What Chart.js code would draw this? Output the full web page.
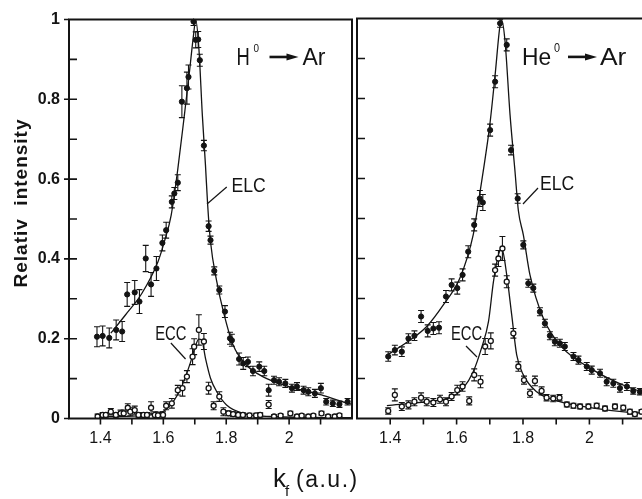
<!DOCTYPE html>
<html>
<head>
<meta charset="utf-8">
<script src="https://cdn.jsdelivr.net/npm/chart.js@4.4.1/dist/chart.umd.min.js"></script>
<style>
  html, body { margin: 0; padding: 0; background: #fff; overflow: hidden; }
  #wrap { position: relative; width: 642px; height: 499px; overflow: hidden; background: #fff; }
  canvas { position: absolute; top: 0; }
  #cL { left: 0; }
  #cR { left: 340px; }
</style>
</head>
<body>
<div id="wrap">
  <canvas id="cR" width="330" height="499"></canvas>
  <canvas id="cL" width="362" height="499"></canvas>
</div>
<script>
// ---------------- data ----------------
const xTickLabels = ['1.4', '1.6', '1.8', '2'];
const yTickLabels = ['0', '0.2', '0.4', '0.6', '0.8', '1'];

// H0 -> Ar : ELC (filled circles)
const hElcK = [1.389,1.407,1.428,1.45,1.469,1.485,1.509,1.524,1.544,1.561,1.578,1.597,1.609,1.627,1.635,1.646,1.659,1.675,1.68,1.696,1.703,1.711,1.716,1.729,1.744,1.75,1.762,1.778,1.796,1.812,1.818,1.841,1.854,1.869,1.885,1.905,1.921,1.935,1.952,1.968,1.988,2.009,2.025,2.046,2.061,2.082,2.101,2.118,2.139,2.16,2.186];
const hElcV = [0.205,0.207,0.202,0.222,0.218,0.311,0.316,0.293,0.401,0.336,0.376,0.44,0.472,0.543,0.564,0.591,0.794,0.828,0.856,0.995,0.949,0.95,0.898,0.684,0.482,0.447,0.37,0.322,0.268,0.201,0.196,0.149,0.138,0.142,0.119,0.13,0.119,0.071,0.096,0.092,0.088,0.076,0.08,0.071,0.067,0.063,0.076,0.042,0.038,0.036,0.042];
const hElcErr = [0.025,0.025,0.025,0.025,0.025,0.03,0.03,0.03,0.033,0.03,0.03,0.02,0.02,0.015,0.015,0.02,0.04,0.04,0.03,0.01,0.02,0.02,0.015,0.013,0.013,0.01,0.01,0.01,0.015,0.015,0.015,0.015,0.015,0.012,0.012,0.012,0.012,0.015,0.01,0.01,0.01,0.01,0.01,0.01,0.01,0.01,0.012,0.008,0.008,0.008,0.008];

// H0 -> Ar : ECC (open circles)
const hEccK = [1.391,1.407,1.417,1.433,1.449,1.464,1.474,1.487,1.495,1.509,1.521,1.537,1.548,1.561,1.573,1.583,1.599,1.609,1.627,1.646,1.661,1.675,1.693,1.698,1.713,1.729,1.744,1.76,1.778,1.791,1.807,1.822,1.838,1.853,1.874,1.895,1.908,1.935,1.952,1.973,2.004,2.025,2.04,2.061,2.077,2.103,2.124,2.145,2.16];
const hEccV = [0.005,0.009,0.009,0.017,0.009,0.013,0.013,0.027,0.017,0.021,0.009,0.009,0.009,0.027,0.009,0.008,0.009,0.032,0.038,0.071,0.076,0.105,0.155,0.18,0.222,0.193,0.076,0.032,0.055,0.017,0.013,0.011,0.009,0.009,0.008,0.008,0.009,0.035,0.005,0.007,0.013,0.005,0.007,0.005,0.007,0.013,0.005,0.005,0.008];
const hEccErr = [0.006,0.006,0.006,0.008,0.006,0.008,0.008,0.01,0.01,0.01,0.006,0.006,0.006,0.015,0.008,0.008,0.008,0.01,0.012,0.012,0.02,0.015,0.02,0.02,0.038,0.02,0.015,0.01,0.012,0.01,0.006,0.006,0.005,0.005,0.005,0.005,0.005,0.01,0.004,0.004,0.005,0.004,0.004,0.004,0.004,0.005,0.004,0.004,0.004];

// H0 -> Ar : fitted curves
const hElcFitK = [1.433,1.48,1.532,1.583,1.604,1.625,1.646,1.667,1.682,1.696,1.703,1.713,1.724,1.734,1.741,1.75,1.77,1.791,1.822,1.864,1.916,1.999,2.103,2.186,2.2];
const hElcFitV = [0.214,0.26,0.314,0.393,0.445,0.51,0.625,0.761,0.861,0.961,0.999,0.928,0.761,0.635,0.535,0.443,0.343,0.268,0.184,0.134,0.105,0.08,0.059,0.038,0.036];
const hEccFitK = [1.39,1.5,1.58,1.614,1.656,1.687,1.703,1.713,1.722,1.734,1.75,1.77,1.801,1.853,1.94,2.2];
const hEccFitV = [0.004,0.006,0.012,0.026,0.076,0.142,0.184,0.199,0.197,0.151,0.101,0.067,0.034,0.013,0.005,0.002];

// He0 -> Ar : ELC (filled circles)
const heElcK = [1.394,1.414,1.435,1.455,1.473,1.493,1.513,1.53,1.547,1.568,1.585,1.602,1.618,1.635,1.653,1.67,1.679,1.701,1.716,1.731,1.751,1.764,1.784,1.801,1.816,1.831,1.851,1.866,1.881,1.896,1.911,1.926,1.952,1.967,1.992,2.007,2.032,2.052,2.072,2.092,2.113,2.132,2.152];
const heElcV = [0.155,0.171,0.167,0.2,0.207,0.255,0.219,0.225,0.227,0.305,0.334,0.326,0.359,0.417,0.484,0.55,0.54,0.721,0.842,0.988,0.934,0.671,0.55,0.434,0.338,0.326,0.267,0.238,0.207,0.192,0.188,0.18,0.155,0.146,0.13,0.121,0.113,0.092,0.088,0.076,0.08,0.069,0.067];
const heElcErr = [0.012,0.012,0.012,0.012,0.012,0.015,0.015,0.015,0.015,0.015,0.015,0.015,0.015,0.015,0.015,0.02,0.02,0.015,0.015,0.01,0.015,0.012,0.012,0.01,0.01,0.01,0.01,0.01,0.01,0.01,0.01,0.01,0.01,0.01,0.01,0.01,0.01,0.01,0.01,0.01,0.01,0.008,0.008];

// He0 -> Ar : ECC (open circles)
const heEccK = [1.394,1.414,1.435,1.455,1.473,1.493,1.51,1.53,1.55,1.568,1.585,1.602,1.618,1.638,1.653,1.672,1.686,1.703,1.716,1.726,1.738,1.751,1.771,1.786,1.803,1.821,1.836,1.856,1.871,1.891,1.91,1.932,1.952,1.972,1.997,2.022,2.047,2.077,2.102,2.122,2.137,2.157];
const heEccV = [0.019,0.059,0.03,0.034,0.042,0.052,0.042,0.04,0.048,0.042,0.055,0.071,0.08,0.044,0.109,0.092,0.18,0.194,0.371,0.4,0.425,0.342,0.213,0.13,0.096,0.063,0.094,0.069,0.052,0.05,0.052,0.035,0.032,0.03,0.03,0.032,0.025,0.03,0.027,0.017,0.011,0.017];
const heEccErr = [0.008,0.015,0.01,0.01,0.01,0.012,0.01,0.01,0.01,0.01,0.01,0.012,0.012,0.01,0.015,0.015,0.02,0.02,0.015,0.02,0.03,0.015,0.012,0.012,0.01,0.01,0.012,0.01,0.008,0.008,0.008,0.006,0.006,0.006,0.006,0.006,0.006,0.006,0.006,0.006,0.005,0.005];

// He0 -> Ar : fitted curves
const heElcFitK = [1.39,1.46,1.51,1.56,1.61,1.65,1.66,1.68,1.7,1.716,1.731,1.736,1.746,1.761,1.776,1.786,1.801,1.821,1.861,1.911,2.012,2.112,2.158,2.2];
const heElcFitV = [0.158,0.196,0.23,0.284,0.351,0.459,0.509,0.617,0.734,0.859,0.984,0.996,0.942,0.759,0.617,0.52,0.459,0.359,0.251,0.184,0.121,0.08,0.067,0.06];
const heEccFitK = [1.39,1.51,1.58,1.62,1.65,1.675,1.696,1.711,1.726,1.736,1.751,1.766,1.781,1.801,1.841,1.911,2.012,2.112,2.2];
const heEccFitV = [0.032,0.042,0.052,0.076,0.117,0.176,0.242,0.342,0.409,0.425,0.359,0.259,0.159,0.109,0.067,0.042,0.026,0.016,0.012];

// ---------------- rendering ----------------
const INK = '#141414';
const FONT = '"Liberation Sans", Arial, sans-serif';

const pts = (k, v) => k.map((x, i) => ({ x, y: v[i] }));
function fmt(v) {
  const r = Math.round(v * 10) / 10;
  return Number.isInteger(r) ? String(r) : r.toFixed(1);
}

const errorBars = {
  id: 'errorBars',
  beforeDatasetsDraw(chart) {
    const { ctx, chartArea: a, scales: { y } } = chart;
    ctx.save();
    ctx.beginPath();
    ctx.rect(a.left, a.top - 1, a.right - a.left, a.bottom - a.top + 1);
    ctx.clip();
    ctx.strokeStyle = INK;
    ctx.lineWidth = 1.1;
    chart.data.datasets.forEach((ds, i) => {
      if (!ds.errs) return;
      const meta = chart.getDatasetMeta(i);
      meta.data.forEach((el, j) => {
        const v = ds.data[j].y, e = ds.errs[j];
        const y1 = y.getPixelForValue(v + e), y2 = y.getPixelForValue(v - e);
        const x = el.x;
        ctx.beginPath();
        ctx.moveTo(x, y1); ctx.lineTo(x, y2);
        ctx.moveTo(x - 3, y1); ctx.lineTo(x + 3, y1);
        ctx.moveTo(x - 3, y2); ctx.lineTo(x + 3, y2);
        ctx.stroke();
      });
    });
    ctx.restore();
  }
};

function drawText(ctx, text, x, y, size, sx, weight, spacing) {
  ctx.save();
  ctx.translate(x, y);
  ctx.scale(sx, 1);
  ctx.font = (weight || 'normal') + ' ' + size + 'px ' + FONT;
  if ('letterSpacing' in ctx) ctx.letterSpacing = (spacing || 0) + 'px';
  ctx.textAlign = 'left';
  ctx.textBaseline = 'alphabetic';
  ctx.fillStyle = INK;
  ctx.fillText(text, 0, 0);
  ctx.restore();
}

const frame = {
  id: 'frame',
  afterDraw(chart, args, o) {
    const { ctx, chartArea: a, scales: { x, y } } = chart;
    ctx.save();
    ctx.strokeStyle = INK;
    ctx.lineWidth = 2;
    ctx.strokeRect(a.left, a.top, a.right - a.left, a.bottom - a.top);
    ctx.lineWidth = 1.6;
    ctx.beginPath();
    x.ticks.forEach(t => {
      const px = x.getPixelForValue(t.value);
      if (px > a.left + 2 && px < a.right - 2) { ctx.moveTo(px, a.bottom); ctx.lineTo(px, a.bottom + 6); }
    });
    y.ticks.forEach(t => {
      const py = y.getPixelForValue(t.value);
      if (py > a.top + 2 && py < a.bottom - 2) { ctx.moveTo(a.left, py); ctx.lineTo(a.left + 8, py); }
      if (o.outer && yTickLabels.includes(fmt(t.value))) { ctx.moveTo(a.left - 5, py); ctx.lineTo(a.left, py); }
    });
    ctx.stroke();

    // annotations, anchored in data coordinates
    (o.notes || []).forEach(n => {
      const ax = x.getPixelForValue(n.k), ay = y.getPixelForValue(n.v);
      if (n.type === 'text') {
        drawText(ctx, n.text, ax + (n.dx || 0), ay + (n.dy || 0), n.size, n.sx || 1, n.weight);
      } else if (n.type === 'line') {
        ctx.lineWidth = 1.2;
        ctx.beginPath();
        ctx.moveTo(ax, ay);
        ctx.lineTo(x.getPixelForValue(n.k2), y.getPixelForValue(n.v2));
        ctx.stroke();
      } else if (n.type === 'arrow') {
        const x1 = ax + n.dx1, x2 = ax + n.dx2, yy = ay + n.dy;
        ctx.lineWidth = 2.6;
        ctx.beginPath();
        ctx.moveTo(x1, yy); ctx.lineTo(x2 - 8, yy);
        ctx.stroke();
        ctx.beginPath();
        ctx.moveTo(x2, yy); ctx.lineTo(x2 - 12, yy - 3.5); ctx.lineTo(x2 - 12, yy + 3.5);
        ctx.closePath();
        ctx.fillStyle = INK;
        ctx.fill();
      }
    });

    // axis titles (left chart only)
    if (o.titles) {
      ctx.save();
      ctx.translate(22, 203);
      ctx.rotate(-Math.PI / 2);
      ctx.font = 'bold 19px ' + FONT;
      if ('letterSpacing' in ctx) ctx.letterSpacing = '1px';
      ctx.textAlign = 'center';
      ctx.textBaseline = 'middle';
      ctx.fillStyle = INK;
      ctx.fillText('Relativ  intensity', 0, 0);
      ctx.restore();
      drawText(ctx, 'k', 273, 487, 26, 1);
      drawText(ctx, 'f', 285, 496, 15, 1);
      drawText(ctx, '(a.u.)', 296, 487, 23, 1, 'normal', 1.5);
    }
    ctx.restore();
  }
};

function makeChart(id, spec) {
  const datasets = [
    { label: 'ELC', data: pts(spec.elcK, spec.elcV), errs: spec.elcErr, showLine: false,
      pointRadius: 2.6, pointBackgroundColor: INK, pointBorderColor: INK, pointBorderWidth: 1 },
    { label: 'ECC', data: pts(spec.eccK, spec.eccV), errs: spec.eccErr, showLine: false,
      pointRadius: 2.5, pointBackgroundColor: '#fff', pointBorderColor: INK, pointBorderWidth: 1.3 },
    { label: 'ELC fit', data: pts(spec.elcFitK, spec.elcFitV), showLine: true, pointRadius: 0,
      borderColor: INK, borderWidth: 1.3, cubicInterpolationMode: 'monotone' },
    { label: 'ECC fit', data: pts(spec.eccFitK, spec.eccFitV), showLine: true, pointRadius: 0,
      borderColor: INK, borderWidth: 1.3, cubicInterpolationMode: 'monotone' }
  ];
  return new Chart(document.getElementById(id), {
    type: 'scatter',
    data: { datasets },
    plugins: [errorBars, frame],
    options: {
      responsive: false,
      animation: false,
      devicePixelRatio: 1,
      layout: { padding: spec.padding },
      plugins: {
        legend: { display: false },
        tooltip: { enabled: false },
        frame: { notes: spec.notes, outer: spec.outer, titles: spec.titles }
      },
      scales: {
        x: {
          type: 'linear', min: 1.3, max: 2.2,
          grid: { display: false, drawTicks: false, tickLength: 0 },
          border: { display: false },
          ticks: {
            stepSize: 0.1, autoSkip: false, maxRotation: 0, padding: 10, color: INK,
            font: { family: FONT, size: 16 },
            callback: v => (xTickLabels.includes(fmt(v)) ? fmt(v) : '')
          },
          afterFit: s => { s.height = 80.5; }
        },
        y: {
          type: 'linear', min: 0, max: 1,
          grid: { display: false, drawTicks: false, tickLength: 0 },
          border: { display: false },
          ticks: {
            display: spec.yLabels, stepSize: 0.1, autoSkip: false, padding: 9, color: INK,
            font: { family: FONT, size: 16, weight: 'bold' },
            callback: v => (yTickLabels.includes(fmt(v)) ? fmt(v) : '')
          },
          afterFit: s => { s.width = spec.yWidth; }
        }
      }
    }
  });
}

makeChart('cL', {
  elcK: hElcK, elcV: hElcV, elcErr: hElcErr,
  eccK: hEccK, eccV: hEccV, eccErr: hEccErr,
  elcFitK: hElcFitK, elcFitV: hElcFitV, eccFitK: hEccFitK, eccFitV: hEccFitV,
  padding: { left: 0, top: 19.5, right: 5, bottom: 0 },
  yWidth: 69, yLabels: true, outer: true, titles: true,
  notes: [
    { type: 'text', k: 1.8327, v: 0.886, text: 'H', size: 23, sx: 0.8 },
    { type: 'text', k: 1.8327, v: 0.886, dx: 17, dy: -13, text: '0', size: 11, sx: 0.9 },
    { type: 'arrow', k: 1.8327, v: 0.886, dx1: 33, dx2: 62, dy: -8 },
    { type: 'text', k: 1.8327, v: 0.886, dx: 66, text: 'Ar', size: 23, sx: 1 },
    { type: 'text', k: 1.817, v: 0.5677, text: 'ELC', size: 20, sx: 0.88 },
    { type: 'line', k: 1.8016, v: 0.58, k2: 1.739, v2: 0.5376 },
    { type: 'text', k: 1.5741, v: 0.1967, text: 'ECC', size: 20, sx: 0.74 },
    { type: 'line', k: 1.624, v: 0.1892, k2: 1.6707, v2: 0.1491 }
  ]
});

makeChart('cR', {
  elcK: heElcK, elcV: heElcV, elcErr: heElcErr,
  eccK: heEccK, eccV: heEccV, eccErr: heEccErr,
  elcFitK: heElcFitK, elcFitV: heElcFitV, eccFitK: heEccFitK, eccFitV: heEccFitV,
  padding: { left: 0, top: 18.5, right: 14.2, bottom: 0 },
  yWidth: 17, yLabels: false, outer: false, titles: false,
  notes: [
    { type: 'text', k: 1.797, v: 0.884, text: 'He', size: 24, sx: 0.95 },
    { type: 'text', k: 1.797, v: 0.884, dx: 32, dy: -13, text: '0', size: 12, sx: 0.9 },
    { type: 'arrow', k: 1.797, v: 0.884, dx1: 46, dx2: 75, dy: -8 },
    { type: 'text', k: 1.797, v: 0.884, dx: 78, text: 'Ar', size: 24, sx: 1.1 },
    { type: 'text', k: 1.8512, v: 0.5713, text: 'ELC', size: 20, sx: 0.88 },
    { type: 'line', k: 1.8452, v: 0.5763, k2: 1.8, v2: 0.5363 },
    { type: 'text', k: 1.5831, v: 0.1963, text: 'ECC', size: 20, sx: 0.74 },
    { type: 'line', k: 1.6283, v: 0.1813, k2: 1.6614, v2: 0.1538 }
  ]
});
</script>
</body>
</html>
